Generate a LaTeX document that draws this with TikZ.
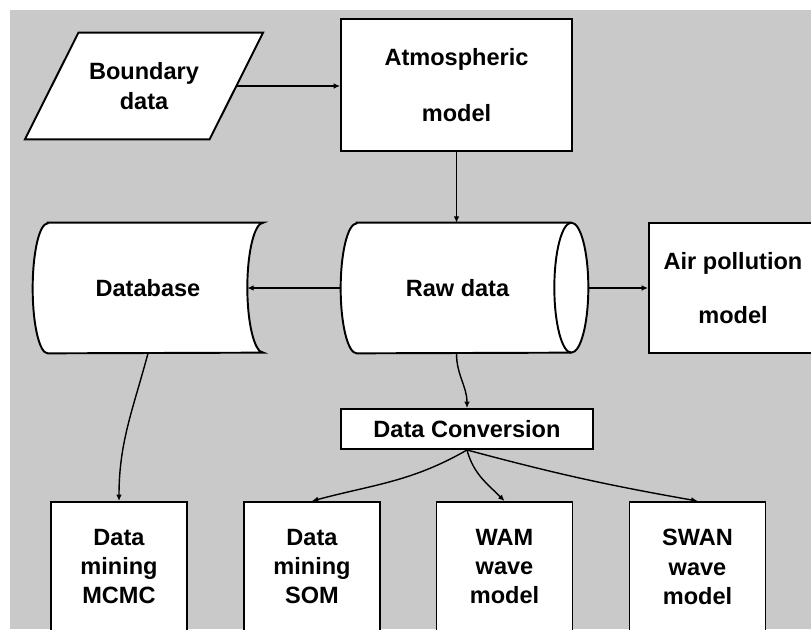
\documentclass[tikz,border=0pt]{standalone}
\usepackage{fontspec}
\setmainfont{Liberation Sans}
\usetikzlibrary{arrows.meta,backgrounds}
\definecolor{panelgray}{RGB}{201,201,201}

\begin{document}
\begin{tikzpicture}[x=0.02cm,y=-0.02cm,
  font=\bfseries\fontsize{13.4}{16.6}\selectfont,
  box/.style={draw, fill=white, line width=1.1pt, align=center, inner sep=0pt},
  lowbox/.style={box, anchor=north, minimum width=2.72cm, inner ysep=0.55cm, text depth=2.4cm},
  outline/.style={line width=1.1pt, fill=white},
  link/.style={line width=0.8pt, -{Latex[length=3.6pt,width=3.2pt]}}]
\useasboundingbox (0,0) rectangle (811,629);
\clip (0,0) rectangle (811,629);

% top row
\node[align=center, minimum width=3.68cm, minimum height=2.12cm, inner sep=0pt] (bnd) at (144,86) {Boundary\\data};
\node[box, minimum width=4.62cm, minimum height=2.64cm,
  font=\bfseries\fontsize{13.4}{32}\selectfont] (atm) at (456.5,85) {Atmospheric\\model};

% middle row, outlines go on the background layer
\node[minimum width=4.6cm, minimum height=2.6cm, inner sep=0pt] (db) at (148,288) {Database};
\node[minimum width=4.94cm, minimum height=2.6cm, inner sep=0pt] (raw) at (464.5,288) {Raw data\hspace*{0.28cm}};
\node[box, minimum width=3.36cm, minimum height=2.6cm,
  font=\bfseries\fontsize{13.4}{31}\selectfont] (air) at (733,288) {Air pollution\\model};

\node[box, minimum width=5.04cm, minimum height=0.8cm] (conv) at (467,429) {Data Conversion};

% bottom row
\node[lowbox] (mcmc) at (119,501) {Data\\mining\\MCMC};
\node[lowbox] (som) at (312,501) {Data\\mining\\SOM};
\node[lowbox] (wam) at (504.5,501) {WAM\\wave\\model};
\node[lowbox] (swan) at (697.5,501) {SWAN\\wave\\model};

\begin{pgfonlayer}{background}
\fill[white] (0,0) rectangle (811,629);
\fill[panelgray] (10,10) rectangle (811,629);
% input parallelogram
\draw[outline] ([xshift=0.535cm]bnd.north west) -- ([xshift=0.535cm]bnd.north east)
  -- ([xshift=-0.535cm]bnd.south east) -- ([xshift=-0.535cm]bnd.south west) -- cycle;
% stored data
\draw[outline] ([xshift=0.3cm]db.north west) -- (db.north east)
  arc[start angle=90, end angle=270, x radius=0.32cm, y radius=1.3cm]
  -- ([xshift=0.3cm]db.south west)
  arc[start angle=270, end angle=90, x radius=0.3cm, y radius=1.3cm] -- cycle;
% drum
\draw[outline] ([xshift=0.32cm]raw.north west) -- ([xshift=-0.34cm]raw.north east)
  arc[start angle=90, end angle=-90, x radius=0.34cm, y radius=1.3cm]
  -- ([xshift=0.32cm]raw.south west)
  arc[start angle=270, end angle=90, x radius=0.32cm, y radius=1.3cm] -- cycle;
\draw[line width=1.1pt] ([xshift=-0.34cm]raw.north east)
  arc[start angle=90, end angle=270, x radius=0.34cm, y radius=1.3cm];
\end{pgfonlayer}

% connectors
\draw[link] (bnd.east) -- (bnd.east -| atm.west);
\draw[link] (atm.south) -- (atm.south |- raw.north);
\draw[link] (raw.west) -- ([xshift=-0.32cm]db.east);
\draw[link] (raw.east) -- (air.west);
\draw[link] (atm.south |- raw.south) to[out=-90, in=90] (conv.north);
\draw[link] (db.south) to[out=-105, in=90] (mcmc.north);
\draw[link] (conv.south) to[out=-150, in=15] (som.north);
\draw[link] (conv.south) to[out=-75, in=135] (wam.north);
\draw[link] (conv.south) to[out=-15, in=170] (swan.north);
\end{tikzpicture}
\end{document}
